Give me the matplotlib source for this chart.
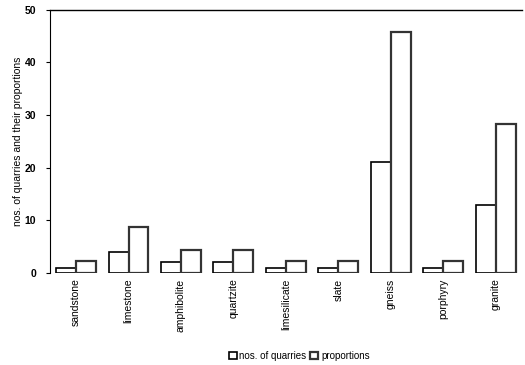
import matplotlib.pyplot as plt
import numpy as np

plt.rcParams['font.family'] = ['Liberation Sans', 'DejaVu Sans']

rocks = ["sandstone", "limestone", "amphibolite", "quartzite", "limesilicate",
         "slate", "gneiss", "porphyry", "granite"]
quarries = [1, 4, 2, 2, 1, 1, 21, 1, 13]
proportions = [2.2, 8.7, 4.3, 4.3, 2.2, 2.2, 45.7, 2.2, 28.3]

fig = plt.figure(figsize=(5.25, 3.65), dpi=100)
ax = fig.add_axes([0.095, 0.252, 0.899, 0.721])

x = np.arange(len(rocks))
w = 0.38
ax.bar(x - w / 2, quarries, w, color="white", edgecolor="black", linewidth=1.2,
       label="nos. of quarries")
ax.bar(x + w / 2, proportions, w, color="white", edgecolor="#333333", linewidth=1.6,
       label="proportions")

ax.set_xlim(-0.5, len(rocks) - 0.5)
ax.set_ylim(0, 50)
ax.set_yticks([0, 10, 20, 30, 40, 50])
ax.set_xticks(x)
ax.set_xticklabels(rocks, rotation=90)
ax.tick_params(axis="x", length=0, pad=4, labelsize=7.5)
ax.tick_params(axis="y", length=3, width=0.8, labelsize=7.5, pad=7)
for lbl in ax.get_yticklabels():
    lbl.set_fontweight("bold")

ax.spines["bottom"].set_visible(False)
ax.spines["right"].set_visible(False)
ax.spines["left"].set_linewidth(0.8)
ax.spines["top"].set_linewidth(1.0)

ax.set_ylabel("nos. of quarries and their proportions", fontsize=7.5, labelpad=1)

fig.legend(loc="lower center", bbox_to_anchor=(0.57, -0.012), ncol=2, frameon=False,
           fontsize=7, handlelength=0.8, handleheight=0.8, handletextpad=0.3,
           columnspacing=0.4)

fig.savefig("out.png", dpi=100)
